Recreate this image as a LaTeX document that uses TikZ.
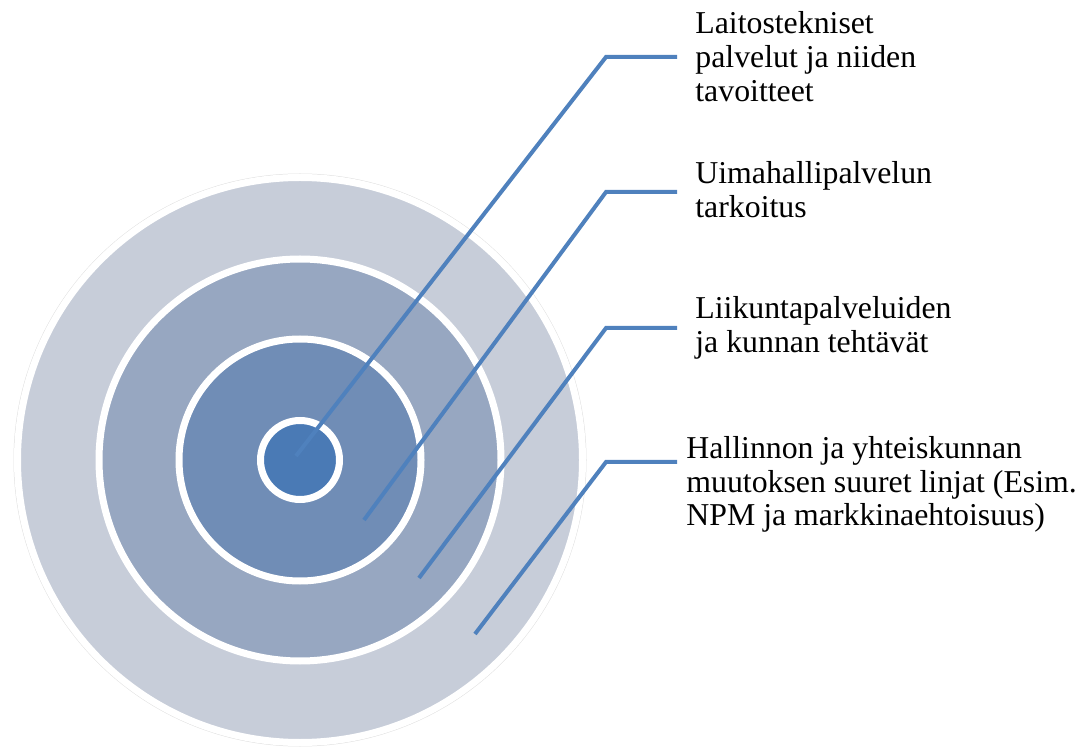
\documentclass[tikz,border=0pt]{standalone}
\usepackage{fontspec}
\setmainfont{Liberation Serif}
\usepackage{xcolor}
\usetikzlibrary{positioning, shadows}

\definecolor{ringA}{HTML}{C7CDD9}
\definecolor{ringB}{HTML}{97A7C1}
\definecolor{ringC}{HTML}{708DB6}
\definecolor{ringD}{HTML}{4A7AB5}
\definecolor{leader}{HTML}{4F81BD}

\begin{document}
\begin{tikzpicture}[
        x=0.5pt, y=-0.5pt,
        ring/.style={circle, draw=white, line width=3.5pt, inner sep=0pt, outer sep=0pt,
            drop shadow={opacity=0.3, shadow xshift=1pt, shadow yshift=-1.2pt}},
        callout/.style={draw=leader, line width=2pt},
        label/.style={anchor=base west, inner sep=0pt, align=left,
            font=\fontsize{15.9}{17}\selectfont},
    ]
    \useasboundingbox (0,0) rectangle (1082,748);

    % === TARGET RINGS ===
    \node[circle, draw=black!12, line width=0.5pt, minimum size=286pt, inner sep=0pt] (rim) at (300,460) {};
    \node[ring, fill=ringA, minimum size=282.5pt] (outer) at (300,460) {};
    \node[ring, fill=ringB, minimum size=201pt] (middle) at (300,460) {};
    \node[ring, fill=ringC, minimum size=121pt] (inner) at (300,460) {};
    \node[ring, fill=ringD, minimum size=39.5pt] (core) at (300,460) {};

    % === LABELS ===
    \node[label] (laitos) at (695,102) {Laitostekniset\\palvelut ja niiden\\tavoitteet};
    \node[label] (uima) at (695,218) {Uimahallipalvelun\\tarkoitus};
    \node[label] (liikunta) at (695,353) {Liikuntapalveluiden\\ja kunnan tehtävät};
    \node[label] (hallinto) at (686,526) {Hallinnon ja yhteiskunnan\\muutoksen suuret linjat (Esim.\\NPM ja markkinaehtoisuus)};

    % === CALLOUT LINES ===
    \coordinate (p1) at (296,456);
    \coordinate (p2) at (364,520);
    \coordinate (p3) at (419,578);
    \coordinate (p4) at (475,634);

    \draw[callout] (p1) -- (606,57) -- (677,57);
    \draw[callout] (p2) -- (606,192) -- (677,192);
    \draw[callout] (p3) -- (606,328) -- (677,328);
    \draw[callout] (p4) -- (606,462) -- (677,462);
\end{tikzpicture}
\end{document}
